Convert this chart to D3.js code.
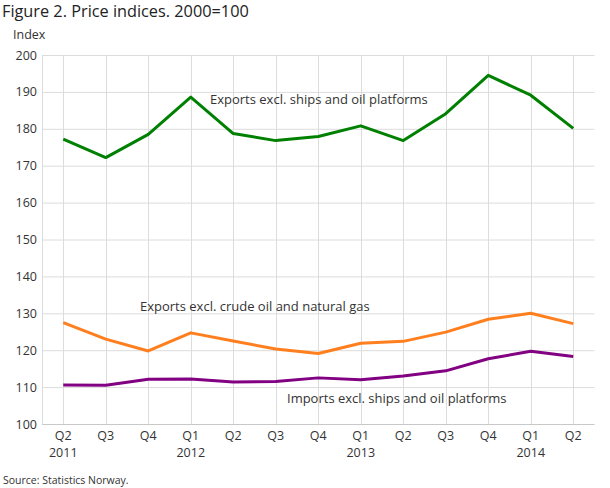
<!DOCTYPE html>
<html><head><meta charset="utf-8">
<script src="https://cdn.jsdelivr.net/npm/d3@7"></script>
<style>body{margin:0;background:#fff}svg{display:block;font-family:"Open Sans",sans-serif}</style>
</head><body><svg id="c" width="610" height="488"></svg>
<script>
const quarters = ["Q2","Q3","Q4","Q1","Q2","Q3","Q4","Q1","Q2","Q3","Q4","Q1","Q2"];
const years = ["2011","","","2012","","","","2013","","","","2014",""];
const exportsShips = [177.2,172.2,178.5,188.6,178.7,176.8,177.9,180.8,176.8,184.1,194.5,189.1,180.1];
const exportsOil = [127.5,123.0,119.8,124.7,122.5,120.3,119.1,121.9,122.4,124.9,128.4,130.0,127.2];
const importsShips = [110.6,110.5,112.1,112.2,111.4,111.5,112.5,112.0,113.0,114.4,117.7,119.7,118.3];
const yTicks = [100,110,120,130,140,150,160,170,180,190,200];
const seriesNames = ["Exports excl. ships and oil platforms","Exports excl. crude oil and natural gas","Imports excl. ships and oil platforms"];
const colors = ["#008000","#ff7f1e","#820082"];

const svg = d3.select("#c");
const idx = d3.range(quarters.length);
const x = d3.scaleBand().domain(idx).range([42,594.5]);
const cx = i => x(i) + x.bandwidth()/2;
const y = d3.scaleLinear().domain([100,200]).range([424,55]);

// grid
svg.append("g").selectAll("line").data(yTicks).join("line")
  .attr("x1",42).attr("x2",594.5).attr("y1",d=>y(d)+0.5).attr("y2",d=>y(d)+0.5)
  .attr("stroke",d=>d===100?"#c8c8c8":"#dcdcdc").attr("stroke-width",1);
svg.append("g").selectAll("line").data(idx).join("line")
  .attr("x1",i=>Math.round(cx(i))+0.5).attr("x2",i=>Math.round(cx(i))+0.5)
  .attr("y1",55).attr("y2",424).attr("stroke","#dcdcdc").attr("stroke-width",1);
svg.append("line").attr("x1",42.5).attr("x2",42.5).attr("y1",55).attr("y2",424).attr("stroke","#dcdcdc");

// y labels
svg.append("g").selectAll("text").data(yTicks).join("text")
  .attr("x",37).attr("y",d=>y(d)+4.5).attr("text-anchor","end")
  .attr("font-size",12.5).attr("fill","#333").text(d=>d);
// x labels
svg.append("g").selectAll("text").data(idx).join("text")
  .attr("x",i=>cx(i)).attr("y",440).attr("text-anchor","middle")
  .attr("font-size",12.5).attr("fill","#333").text(i=>quarters[i]);
svg.append("g").selectAll("text").data(idx.filter(i=>years[i])).join("text")
  .attr("x",i=>cx(i)).attr("y",457).attr("text-anchor","middle")
  .attr("font-size",12.5).attr("fill","#333").text(i=>years[i]);

const line = d3.line().x((d,i)=>cx(i)).y(d=>y(d)).curve(d3.curveLinear);
[exportsShips,exportsOil,importsShips].forEach((s,k)=>{
  svg.append("path").datum(s).attr("d",line).attr("fill","none")
    .attr("stroke",colors[k]).attr("stroke-width",3).attr("stroke-linejoin","round");
});

// series labels
const lab = [[210,103.5],[140,311],[287,402.5]];
lab.forEach((p,k)=>svg.append("text").attr("x",p[0]).attr("y",p[1])
  .attr("font-size",13).attr("fill","#333").text(seriesNames[k]));

svg.append("text").attr("x",2).attr("y",17).attr("font-size",16.3).attr("fill","#222").text("Figure 2. Price indices. 2000=100");
svg.append("text").attr("x",13).attr("y",39).attr("font-size",12.5).attr("fill","#333").text("Index");
svg.append("text").attr("x",3).attr("y",484).attr("font-size",10.5).attr("fill","#333").text("Source: Statistics Norway.");
</script></body></html>
